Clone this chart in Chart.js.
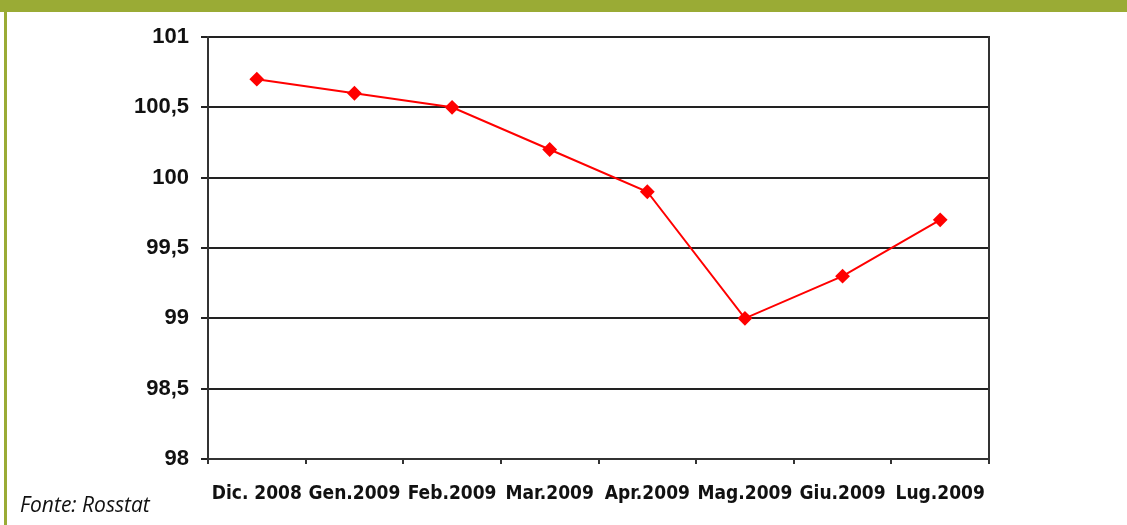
<!DOCTYPE html>
<html>
<head>
<meta charset="utf-8">
<script src="https://cdn.jsdelivr.net/npm/chart.js@4.4.0/dist/chart.umd.min.js"></script>
<style>
  html, body { margin: 0; padding: 0; background: #fff; }
  #wrap { position: relative; width: 1127px; height: 525px; overflow: hidden; }
  #topbar { position: absolute; left: 0; top: 0; width: 1127px; height: 12px; background: #9aab35; }
  #leftbar { position: absolute; left: 4px; top: 0; width: 3px; height: 525px; background: #9aab35; }
  #fonte { position: absolute; left: 20px; top: 490px; font: italic 21px "Open Sans", sans-serif; color: #111; }
  canvas { position: absolute; left: 0; top: 0; }
</style>
</head>
<body>
<div id="wrap">
  <canvas id="chart" width="1127" height="525"></canvas>
  <div id="topbar"></div>
  <div id="leftbar"></div>
  <div id="fonte">Fonte: Rosstat</div>
</div>
<script>
const months = ['Dic. 2008', 'Gen.2009', 'Feb.2009', 'Mar.2009', 'Apr.2009', 'Mag.2009', 'Giu.2009', 'Lug.2009'];
const values = [100.7, 100.6, 100.5, 100.2, 99.9, 99.0, 99.3, 99.7];
const yMin = 98;
const yMax = 101;
const yStep = 0.5;

const ctx = document.getElementById('chart');

new Chart(ctx, {
    type: 'line',
    data: {
        labels: months,
        datasets: [{
            data: values,
            borderColor: '#ff0000',
            backgroundColor: '#ff0000',
            borderWidth: 2,
            pointStyle: 'rectRot',
            pointRadius: 6,
            pointHoverRadius: 6,
            tension: 0
        }]
    },
    options: {
        responsive: false,
        animation: false,
        layout: { padding: { left: 0, top: 37, right: 138, bottom: 0 } },
        plugins: { legend: { display: false }, tooltip: { enabled: false } },
        scales: {
            x: {
                offset: true,
                grid: {
                    offset: true,
                    drawOnChartArea: false,
                    tickLength: 5,
                    lineWidth: 2,
                    color: '#333'
                },
                border: { color: '#333', width: 2 },
                ticks: {
                    padding: 19,
                    maxRotation: 0,
                    autoSkip: false,
                    color: '#111',
                    font: { family: '"DejaVu Sans Condensed"', weight: 'bold', size: 19 }
                },
                afterFit: scale => { scale.height = 66; }
            },
            y: {
                min: yMin,
                max: yMax,
                grid: { color: '#222', lineWidth: 2, tickLength: 7 },
                border: { color: '#333', width: 2 },
                ticks: {
                    stepSize: yStep,
                    padding: 12,
                    color: '#111',
                    font: { family: 'Liberation Sans', weight: 'bold', size: 22 },
                    callback: v => String(v).replace('.', ',')
                },
                afterFit: scale => { scale.width = 208; }
            },
            y2: {
                position: 'right',
                min: yMin,
                max: yMax,
                grid: { display: false },
                ticks: { display: false },
                border: { display: true, color: '#333', width: 2 },
                afterFit: scale => { scale.width = 0; }
            }
        }
    }
});
</script>
</body>
</html>
